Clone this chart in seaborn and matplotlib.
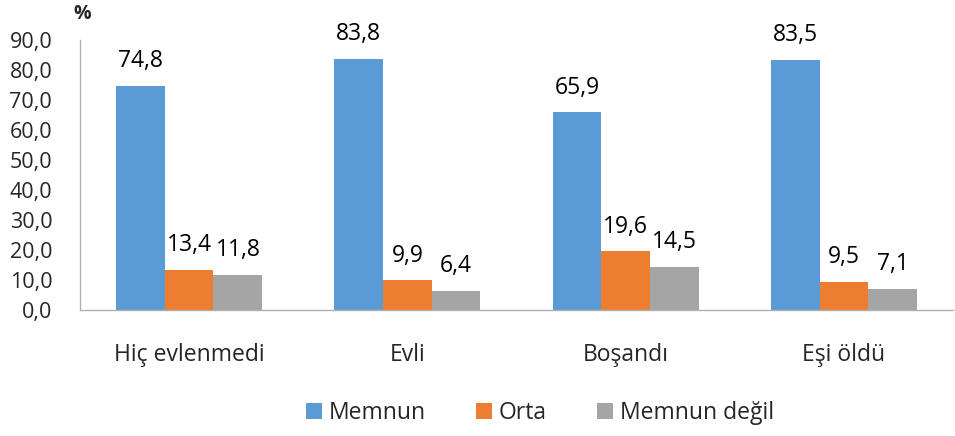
import matplotlib.pyplot as plt
import seaborn as sns
import pandas as pd

categories = ["Hiç evlenmedi", "Evli", "Boşandı", "Eşi öldü"]
series = ["Memnun", "Orta", "Memnun değil"]
memnun = [74.8, 83.8, 65.9, 83.5]
orta = [13.4, 9.9, 19.6, 9.5]
memnun_degil = [11.8, 6.4, 14.5, 7.1]
yticks = [0, 10, 20, 30, 40, 50, 60, 70, 80, 90]

colors = ["#5B9BD5", "#ED7D31", "#A5A5A5"]

df = pd.DataFrame({
    "kategori": categories * 3,
    "seri": [s for s in series for _ in categories],
    "deger": memnun + orta + memnun_degil,
})

sns.set_style("white")
plt.rcParams["font.family"] = ["Open Sans", "DejaVu Sans"]
FS = 16.5

fig = plt.figure(figsize=(9.55, 4.36), dpi=100)
ax = fig.add_axes([80 / 955, 1 - 310 / 436, 873 / 955, 270 / 436])

sns.barplot(data=df, x="kategori", y="deger", hue="seri", palette=colors,
            width=0.67, saturation=1, linewidth=0, ax=ax, legend=True)

for cont in ax.containers:
    labels = [f"{v:.1f}".replace(".", ",") for v in cont.datavalues]
    ax.bar_label(cont, labels=labels, padding=9, fontsize=FS, color="#000000")

ax.set_ylim(0, 90)
ax.set_xlim(-0.5, 3.5)
ax.set_yticks(yticks)
ax.set_yticklabels([f"{t:.1f}".replace(".", ",") for t in yticks], fontsize=15.5)
ax.tick_params(axis="x", labelsize=FS, pad=24, length=0)
ax.tick_params(axis="y", length=0, pad=20)
ax.set_xlabel("")
ax.set_ylabel("")

for side in ["top", "right"]:
    ax.spines[side].set_visible(False)
for side in ["left", "bottom"]:
    ax.spines[side].set_color("#B0B0B0")
    ax.spines[side].set_linewidth(1)

fig.text(82 / 955, 1 - 14 / 436, "%", fontsize=14,
         fontweight="bold", ha="center", va="center")

handles, labs = ax.get_legend_handles_labels()
leg = ax.legend(handles, labs, loc="center", frameon=False,
                ncol=3, fontsize=FS, handlelength=0.7, handleheight=0.7,
                columnspacing=2.2, handletextpad=0.3,
                bbox_to_anchor=(540 / 955, 1 - 413 / 436),
                bbox_transform=fig.transFigure)

fig.savefig("out.png", dpi=100)
